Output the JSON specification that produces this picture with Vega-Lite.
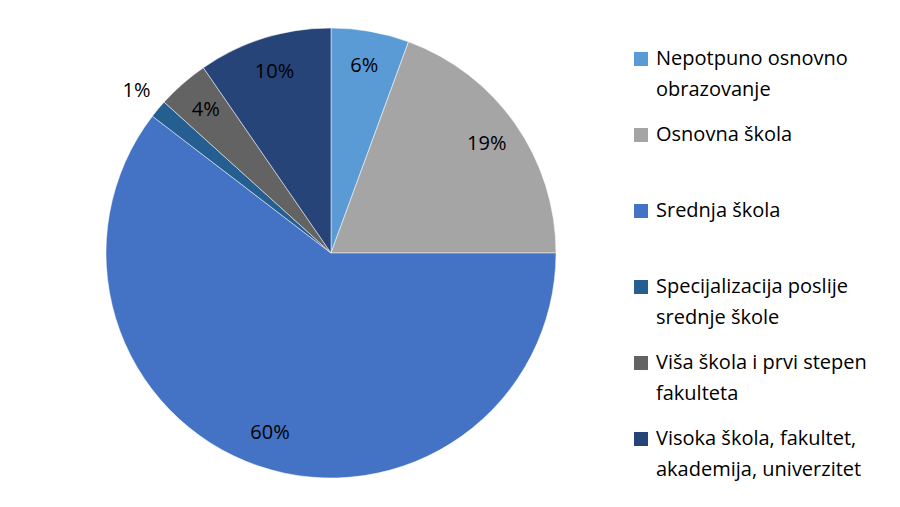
{
  "$schema": "https://vega.github.io/schema/vega-lite/v6.json",
  "width": 648,
  "height": 482,
  "autosize": {"type": "none"},
  "padding": {"left": 7, "top": 12, "right": 245, "bottom": 13},
  "background": "white",
  "config": {
    "view": {"stroke": null},
    "font": "Open Sans",
    "style": {"guide-label": {"lineHeight": 31}}
  },
  "data": {
    "values": [
      {"category": "Nepotpuno osnovno obrazovanje", "share": 0.056, "rank": 1},
      {"category": "Osnovna škola", "share": 0.194, "rank": 2},
      {"category": "Srednja škola", "share": 0.604, "rank": 3},
      {"category": "Specijalizacija poslije srednje škole", "share": 0.013, "rank": 4},
      {"category": "Viša škola i prvi stepen fakulteta", "share": 0.037, "rank": 5},
      {"category": "Visoka škola, fakultet, akademija, univerzitet", "share": 0.096, "rank": 6}
    ]
  },
  "encoding": {
    "theta": {"field": "share", "type": "quantitative", "stack": true},
    "order": {"field": "rank", "type": "quantitative"}
  },
  "layer": [
    {
      "mark": {"type": "arc", "outerRadius": 225, "stroke": "white", "strokeWidth": 0.5},
      "encoding": {
        "color": {
          "field": "category",
          "type": "nominal",
          "scale": {
            "domain": [
              "Nepotpuno osnovno obrazovanje",
              "Osnovna škola",
              "Srednja škola",
              "Specijalizacija poslije srednje škole",
              "Viša škola i prvi stepen fakulteta",
              "Visoka škola, fakultet, akademija, univerzitet"
            ],
            "range": ["#5B9BD5", "#A5A5A5", "#4472C4", "#255E91", "#636363", "#264478"]
          },
          "legend": {
            "title": null,
            "orient": "none",
            "legendX": 624,
            "legendY": 37,
            "padding": 0,
            "symbolType": "square",
            "symbolSize": 196,
            "symbolStrokeWidth": 0,
            "labelFont": "Open Sans",
            "labelFontSize": 20,
            "labelColor": "black",
            "labelOffset": 5,
            "labelLimit": 400,
            "gridAlign": "all",
            "rowPadding": 25,
            "labelExpr": "datum.label == 'Nepotpuno osnovno obrazovanje' ? ['Nepotpuno osnovno', 'obrazovanje'] : datum.label == 'Specijalizacija poslije srednje škole' ? ['Specijalizacija poslije', 'srednje škole'] : datum.label == 'Viša škola i prvi stepen fakulteta' ? ['Viša škola i prvi stepen', 'fakulteta'] : datum.label == 'Visoka škola, fakultet, akademija, univerzitet' ? ['Visoka škola, fakultet,', 'akademija, univerzitet'] : datum.label",
            "encode": {"labels": {"update": {"lineHeight": {"value": 31}}}}
          }
        }
      }
    },
    {
      "mark": {
        "type": "text",
        "fontSize": 20,
        "font": "Open Sans",
        "color": "black",
        "radius": {"expr": "datum.share < 0.02 ? 253 : 190"}
      },
      "encoding": {
        "text": {"field": "share", "type": "quantitative", "format": ".0%"}
      }
    }
  ]
}
